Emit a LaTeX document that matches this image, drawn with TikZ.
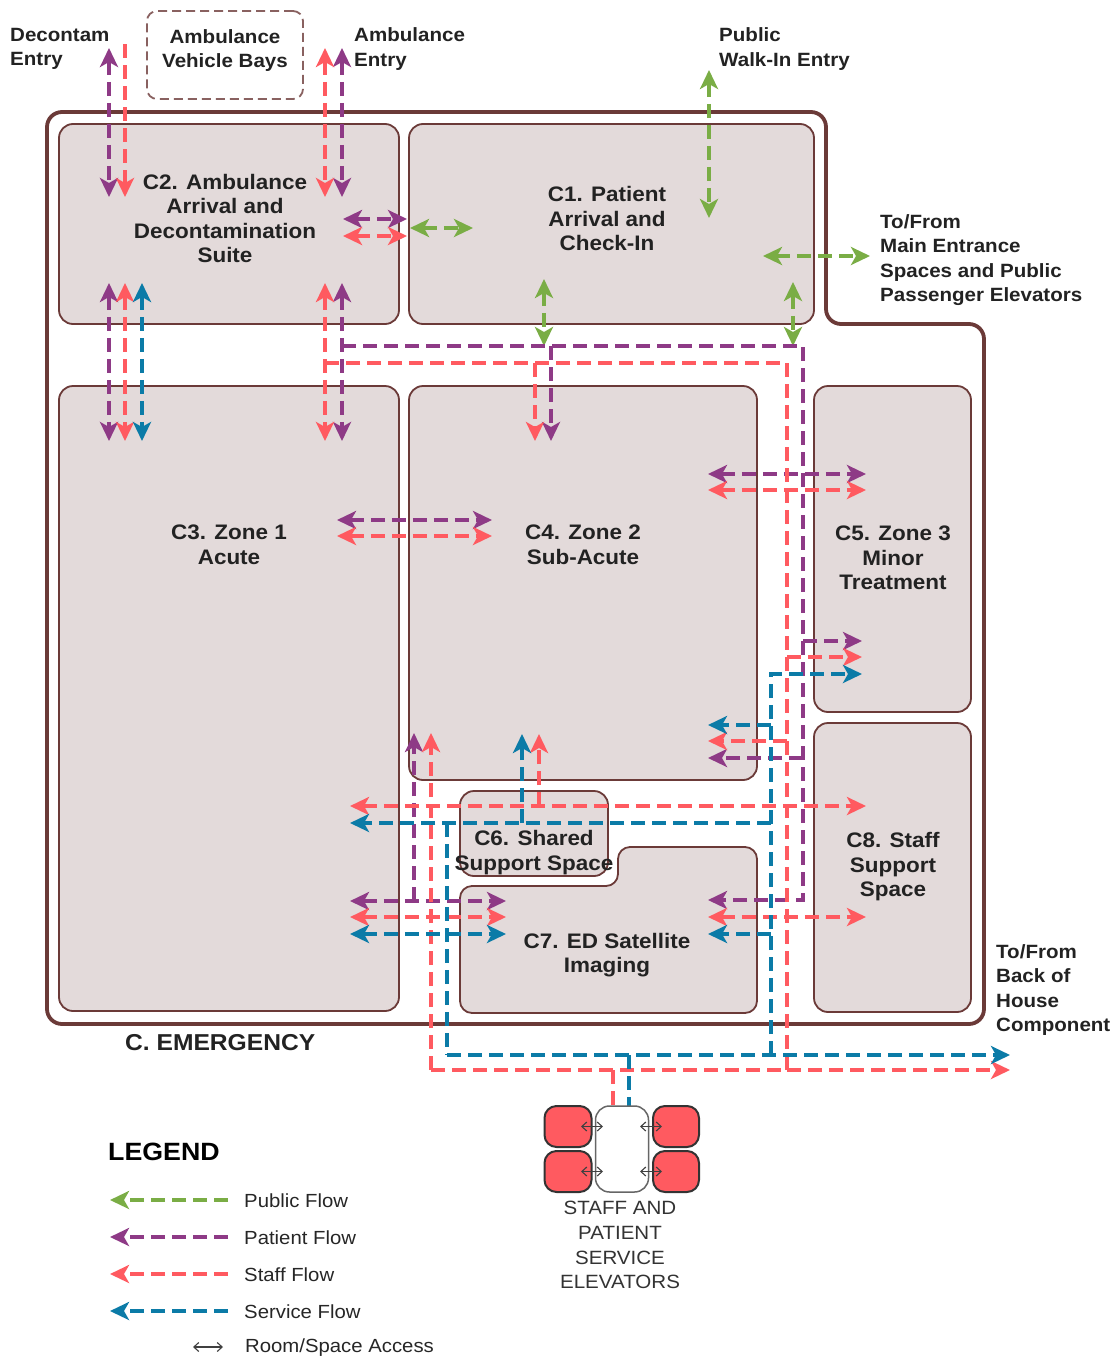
\documentclass[tikz,border=0pt]{standalone}
\usepackage{xcolor}
\usepackage{fontspec}
\setmainfont{Liberation Sans}[FakeStretch=1.07]
\usepackage{tikz}
\usetikzlibrary{arrows.meta}
\definecolor{muro}{HTML}{6B3A38}
\definecolor{sala}{HTML}{E3DADA}
\definecolor{publico}{HTML}{7AAD45}
\definecolor{paciente}{HTML}{8E3A86}
\definecolor{personal}{HTML}{FF5A60}
\definecolor{servicio}{HTML}{0B7BA7}
\definecolor{texto}{HTML}{222222}
\tikzset{
  >={Stealth[length=19pt,width=18pt,inset=5pt]},
  room/.style={draw=muro,fill=sala,line width=1.8pt,rounded corners=14pt,inner sep=0pt,minimum width=#1},
  wall/.style={draw=muro,line width=3.8pt,rounded corners=15pt},
  bay/.style={draw=muro!80,line width=1.8pt,dash pattern=on 9pt off 5pt,rounded corners=10pt,inner sep=0pt},
  car/.style={draw=black!80,fill=personal,line width=2pt,rounded corners=12pt,inner sep=0pt},
  shaft/.style={draw=black!60,fill=white,line width=1.5pt,rounded corners=14pt,inner sep=0pt},
  lbl/.style={font=\fontsize{21}{24.5}\selectfont\bfseries,text=texto,align=center,inner sep=0pt},
  side/.style={lbl,align=left,anchor=west,font=\fontsize{19.2}{24.6}\selectfont\bfseries},
  note/.style={font=\fontsize{19.2}{24.8}\selectfont,text=black!80,align=center,inner sep=0pt},
  key/.style={note,anchor=west,text=black!85,font=\fontsize{19}{24.8}\selectfont},
  flow/.style={line width=4pt,dash pattern=on 14pt off 7pt},
  flowpub/.style={flow,publico},
  flowpat/.style={flow,paciente},
  flowstf/.style={flow,personal},
  flowsrv/.style={flow,servicio},
  access/.style={{Straight Barb[length=5pt,width=9pt]}-{Straight Barb[length=5pt,width=9pt]},line width=1.1pt,black!75},
}
\begin{document}
\begin{tikzpicture}[x=1pt,y=-1pt]
  \useasboundingbox (0,0) rectangle (1119,1360);
  % building outline
  \draw[wall] (47,112) -- (826,112) -- (826,324) -- (984,324) -- (984,1024) -- (47,1024) -- cycle;
  \node[bay,minimum width=156pt,minimum height=88pt] (bays) at (225,55) {};
  % rooms
  \node[room=340pt,minimum height=200pt] (c2) at (229,224) {};
  \node[room=405pt,minimum height=200pt] (c1) at (611.5,224) {};
  \node[room=340pt,minimum height=625pt] (c3) at (229,698.5) {};
  \node[room=348pt,minimum height=394pt] (c4) at (583,583) {};
  \node[room=157pt,minimum height=326pt] (c5) at (892.5,549) {};
  \node[room=157pt,minimum height=289pt] (c8) at (892.5,867.5) {};
  \node[room=148pt,minimum height=85pt] (c6) at (534,833.5) {};
  \draw[room=0pt,rounded corners=12pt] (460,886) -- (618,886) -- (618,847) -- (757,847) -- (757,1013) -- (460,1013) -- cycle;
  % public flow
  \foreach \n/\x/\y in {ga/709/70,gb/709/218,gc/410/228,gd/473/228,ge/544/279,gf/544/346,gg/763/256,gh/870/256,gi/793/282,gj/793/346}
    \coordinate (\n) at (\x,\y);
  \foreach \a/\b in {ga/gb,gc/gd,ge/gf,gg/gh,gi/gj}
    \draw[flowpub,<->] (\a) -- (\b);
  % patient flow
  \foreach \n/\x/\y in {pa/109/48,pb/109/197,pc/342/48,pd/342/197,pe/343/219,pf/407/219,pg/109/283,ph/109/441,pi/342/283,pj/342/441,pk/337/520,pl/492/520,pm/708/474,pn/866/474,po/350/901,pp/506/901,pq/342/346,pr/803/346,ps/803/900,pt/708/900,pu/551/346,pv/551/441,pw/803/641,px/862/641,py/803/758,pz/708/758,qa/414/901,qb/414/733}
    \coordinate (\n) at (\x,\y);
  \foreach \a/\b in {pa/pb,pc/pd,pe/pf,pg/ph,pi/pj,pk/pl,pm/pn,po/pp}
    \draw[flowpat,<->] (\a) -- (\b);
  \foreach \a/\b in {pu/pv,pw/px,py/pz,qa/qb}
    \draw[flowpat,->] (\a) -- (\b);
  \draw[flowpat,->] (pq) -- (pr) -- (ps) -- (pt);
  % staff flow
  \foreach \n/\x/\y in {sa/125/44,sb/125/197,sc/325/48,sd/325/197,se/343/236,sf/407/236,sg/125/283,sh/125/441,si/325/283,sj/325/441,sk/337/536,sl/492/536,sm/708/490,sn/866/490,so/350/806,sp/866/806,sq/350/917,sr/506/917,ss/708/917,st/866/917,su/325/363,sv/787/363,sw/787/1070,sx/1010/1070,ta/535/363,tb/535/441,tc/787/657,td/862/657,te/787/741,tf/708/741,tg/539/806,th/539/734,ti/431/1070,tj/431/733,tk/613/1070,tl/613/1107}
    \coordinate (\n) at (\x,\y);
  \draw[flowstf,->] (sa) -- (sb);
  \foreach \a/\b in {sc/sd,se/sf,sg/sh,si/sj,sk/sl,sm/sn,so/sp,sq/sr,ss/st}
    \draw[flowstf,<->] (\a) -- (\b);
  \foreach \a/\b in {ta/tb,tc/td,te/tf,tg/th,sw/sx,ti/tj}
    \draw[flowstf,->] (\a) -- (\b);
  \draw[flowstf] (su) -- (sv) -- (sw) (ti) -- (sw) (tk) -- (tl);
  % service flow
  \foreach \n/\x/\y in {va/142/283,vb/142/441,vc/350/934,vd/506/934,ve/771/823,vf/350/823,vg/771/674,vh/862/674,vi/771/1055,vj/522/823,vk/522/734,vl/447/823,vm/447/1055,vn/1010/1055,vo/771/725,vp/708/725,vq/771/934,vr/708/934,vs/629/1055,vt/629/1107}
    \coordinate (\n) at (\x,\y);
  \foreach \a/\b in {va/vb,vc/vd}
    \draw[flowsrv,<->] (\a) -- (\b);
  \foreach \a/\b in {ve/vf,vj/vk,vm/vn,vo/vp,vq/vr}
    \draw[flowsrv,->] (\a) -- (\b);
  \draw[flowsrv,->] (vi) -- (vg) -- (vh);
  \draw[flowsrv] (vl) -- (vm) (vs) -- (vt);
  % elevators
  \node[shaft,minimum width=53pt,minimum height=86pt] (shaft) at (622,1149) {};
  \node[car,minimum width=47pt,minimum height=41pt] (e1) at (568,1126.5) {};
  \node[car,minimum width=47pt,minimum height=41pt] (e2) at (568,1171.5) {};
  \node[car,minimum width=46pt,minimum height=41pt] (e3) at (676,1126.5) {};
  \node[car,minimum width=46pt,minimum height=41pt] (e4) at (676,1171.5) {};
  \foreach \c in {e1,e2} \draw[access] ([xshift=13pt]\c.center) -- ([xshift=35pt]\c.center);
  \foreach \c in {e3,e4} \draw[access] ([xshift=-36pt]\c.center) -- ([xshift=-14pt]\c.center);
  % labels
  \node[side,align=center,anchor=center] (tbays) at (225,50.5) {Ambulance\\Vehicle Bays};
  \node[lbl] (t2) at (225,218.5) {C2. Ambulance\\Arrival and\\Decontamination\\Suite};
  \node[lbl] (t1) at (607,218.5) {C1. Patient\\Arrival and\\Check-In};
  \node[lbl] (t3) at (229,545) {C3. Zone 1\\Acute};
  \node[lbl] (t4) at (583,545) {C4. Zone 2\\Sub-Acute};
  \node[lbl] (t5) at (893,558) {C5. Zone 3\\Minor\\Treatment};
  \node[lbl] (t8) at (893,867) {C8. Staff\\Support\\Space};
  \node[lbl] (t6) at (534,852.5) {C6. Shared\\Support Space};
  \node[lbl] (t7) at (607,955) {C7. ED Satellite\\Imaging};
  \node[side] (tdec) at (10,49) {Decontam\\Entry};
  \node[side] (tamb) at (354,49) {Ambulance\\Entry};
  \node[side] (tpub) at (719,49) {Public\\Walk-In Entry};
  \node[side] (tmain) at (880,260) {To/From\\Main Entrance\\Spaces and Public\\Passenger Elevators};
  \node[side] (tback) at (996,990) {To/From\\Back of\\House\\Component};
  \node[lbl,anchor=west,font=\fontsize{23}{26}\selectfont\bfseries] (temer) at (125,1043) {C. EMERGENCY};
  \node[note] (telev) at (620,1245) {STAFF AND\\PATIENT\\SERVICE\\ELEVATORS};
  % legend
  \node[lbl,anchor=west,text=black,font=\fontsize{25}{28}\selectfont\bfseries] (tleg) at (108,1152) {LEGEND};
  \foreach \n/\y/\c/\t in {lpub/1200/flowpub/Public Flow,lpat/1237/flowpat/Patient Flow,lstf/1274/flowstf/Staff Flow,lsrv/1311/flowsrv/Service Flow}{
    \node[key] (\n) at (244,\y+1) {\t};
    \coordinate (\n a) at (228,\y);
    \coordinate (\n b) at (110,\y);
    \draw[\c,->] (\n a) -- (\n b);
  }
  \node[key] (lacc) at (245,1347.5) {Room/Space Access};
  \coordinate (lacca) at (193,1347);
  \coordinate (laccb) at (223,1347);
  \draw[access] (lacca) -- (laccb);
\end{tikzpicture}
\end{document}
